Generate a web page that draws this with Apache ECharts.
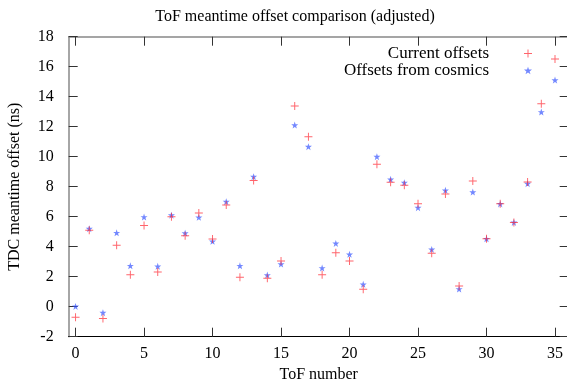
<!DOCTYPE html>
<html>
<head>
<meta charset="utf-8">
<script src="https://cdn.jsdelivr.net/npm/echarts@6/dist/echarts.min.js"></script>
<style>html,body{margin:0;padding:0;background:#fff}#c{width:567px;height:381px}</style>
</head>
<body>
<div id="c"></div>
<script>
const tofNumbers = [0,1,2,3,4,5,6,7,8,9,10,11,12,13,14,15,16,17,18,19,20,21,22,23,24,25,26,27,28,29,30,31,32,33,34,35];
const currentOffsets = [-0.7,5.1,-0.78,4.09,2.13,5.42,2.31,6.0,4.73,6.24,4.51,6.78,1.96,8.42,1.89,3.04,13.38,11.33,2.13,3.6,3.04,1.16,9.49,8.29,8.09,6.87,3.56,7.51,1.38,8.38,4.53,6.87,5.62,8.31,13.53,16.51];
const cosmicsOffsets = [0.02,5.2,-0.4,4.93,2.73,5.98,2.69,6.1,4.9,5.96,4.36,7.0,2.73,8.67,2.11,2.84,12.11,10.67,2.58,4.22,3.49,1.49,10.0,8.49,8.27,6.6,3.82,7.76,1.18,7.64,4.53,6.85,5.62,8.2,12.98,15.11];
const xTicks = [0,5,10,15,20,25,30,35];
const yTicks = [-2,0,2,4,6,8,10,12,14,16,18];

const font = '"Liberation Serif", "DejaVu Serif", serif';
const plusPath = 'path://M4.4,0H5.6V4.4H10V5.6H5.6V10H4.4V5.6H0V4.4H4.4Z';
const starPath = 'path://M5,0L6.2,3.6L10,3.6L7,5.9L8.1,9.5L5,7.3L1.9,9.5L3,5.9L0,3.6L3.8,3.6Z';
const red = 'rgba(255,40,50,0.9)';
const blue = 'rgba(50,80,255,0.85)';

const chart = echarts.init(document.getElementById('c'), null, {renderer:'canvas'});
function tickCfg(){ return {show:true, inside:true, length:9, lineStyle:{color:'#333', width:1}}; }
chart.setOption({
  animation:false,
  title:{text:'ToF meantime offset comparison (adjusted)', left:290, top:4, textAlign:'center',
    textStyle:{fontFamily:font, fontSize:16, fontWeight:'normal', color:'#000'}},
  grid:{left:68.7, top:36.7, width:500, height:300, outerBoundsMode:'none', containLabel:false},
  legend:{orient:'vertical', right:30, top:40, align:'right', itemGap:0, itemWidth:8, itemHeight:8,
    textStyle:{fontFamily:font, fontSize:17, color:'#000', padding:[0,30,0,0]},
    data:[{name:'Current offsets', icon:plusPath, itemStyle:{color:red}},
          {name:'Offsets from cosmics', icon:starPath, itemStyle:{color:blue}}]},
  xAxis:[
    {type:'value', position:'bottom', min:-0.5, max:36, interval:5, splitLine:{show:false},
      axisLine:{show:true, onZero:false, lineStyle:{color:'#000', width:1.2}},
      axisLabel:{fontFamily:font, fontSize:16, color:'#000', margin:9, customValues: xTicks},
      axisTick:Object.assign(tickCfg(), {customValues: xTicks}),
      name:'ToF number', nameLocation:'middle', nameGap:30,
      nameTextStyle:{fontFamily:font, fontSize:16, color:'#000'}},
    {type:'value', position:'top', min:-0.5, max:36, interval:5, splitLine:{show:false},
      axisLine:{show:true, onZero:false, lineStyle:{color:'#888', width:1.5}},
      axisLabel:{show:false},
      axisTick:Object.assign(tickCfg(), {customValues: xTicks})}
  ],
  yAxis:[
    {type:'value', position:'left', min:-2, max:18, interval:2, splitLine:{show:false},
      axisLine:{show:true, onZero:false, lineStyle:{color:'#888', width:1.5}},
      axisLabel:{fontFamily:font, fontSize:16, color:'#000', margin:15, customValues: yTicks},
      axisTick:Object.assign(tickCfg(), {customValues: yTicks}),
      name:'TDC meantime offset (ns)', nameLocation:'middle', nameGap:46, nameRotate:90,
      nameTextStyle:{fontFamily:font, fontSize:16, color:'#000'}},
    {type:'value', position:'right', min:-2, max:18, interval:2, splitLine:{show:false},
      axisLine:{show:true, onZero:false, lineStyle:{color:'#888', width:1.5}},
      axisLabel:{show:false},
      axisTick:Object.assign(tickCfg(), {customValues: yTicks})}
  ],
  series:[
    {name:'Current offsets', type:'scatter', symbol:plusPath, symbolSize:8,
      itemStyle:{color:red}, data: tofNumbers.map((x,i)=>[x,currentOffsets[i]]), z:3},
    {name:'Offsets from cosmics', type:'scatter', symbol:starPath, symbolSize:7,
      itemStyle:{color:blue}, data: tofNumbers.map((x,i)=>[x,cosmicsOffsets[i]]), z:2}
  ]
});
</script>
</body>
</html>
